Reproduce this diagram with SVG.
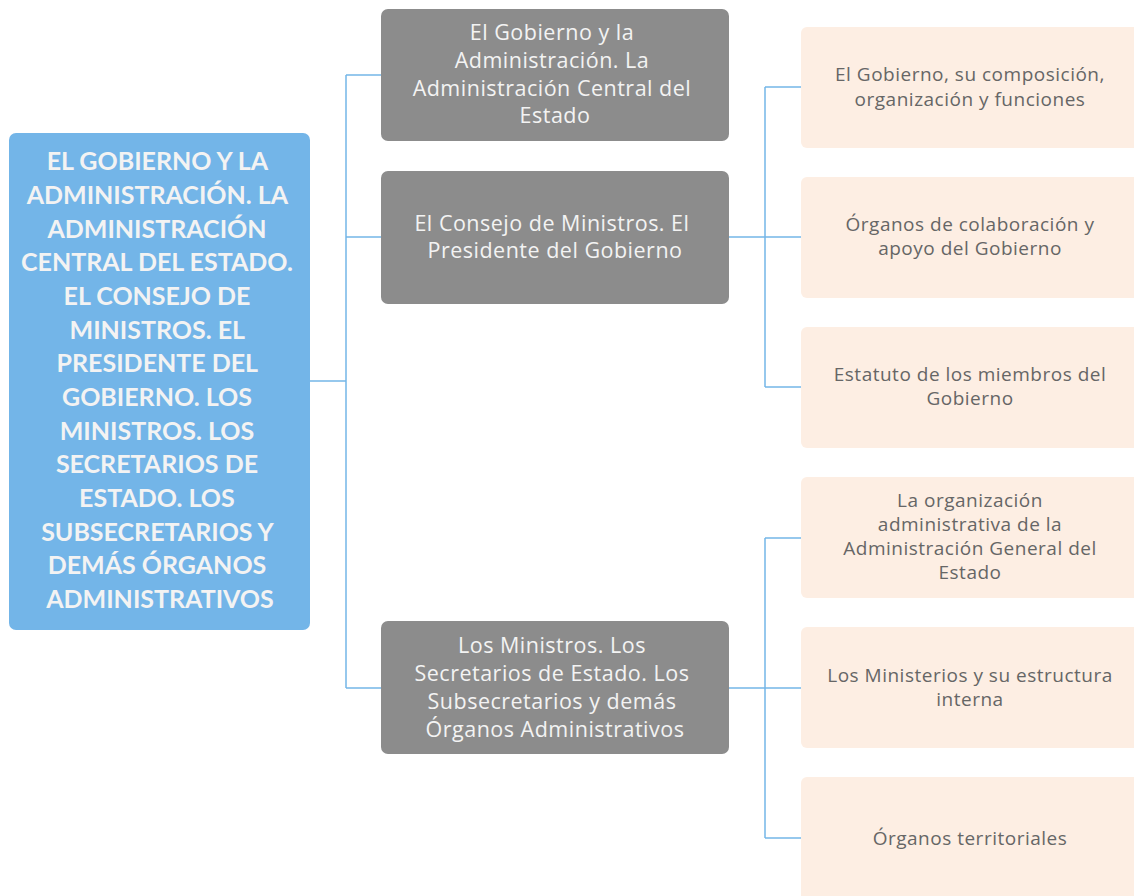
<svg xmlns="http://www.w3.org/2000/svg" width="1134" height="896" viewBox="0 0 1134 896">
<style>
.root{fill:#73b5e8}
.mid{fill:#8c8c8c}
.leaf{fill:#fdeee3}
.rt{font-family:Lato,"Liberation Sans",sans-serif;font-weight:bold;font-size:25px;fill:#f3f3f3;text-anchor:middle}
.mt{font-family:"Open Sans","Liberation Sans",sans-serif;font-size:21.5px;letter-spacing:0.5px;fill:#f3f3f3;text-anchor:middle}
.lt{font-family:"Open Sans","Liberation Sans",sans-serif;font-size:19px;letter-spacing:0.5px;fill:#666666;text-anchor:middle}
.c{fill:none;stroke:#74b6e8;stroke-width:1.5}
</style>
<rect width="1134" height="896" fill="#ffffff"/>
<g id="connectors">
<path class="c" d="M310 381H346M346 75V688M346 75H381M346 237H381M346 688H381"/>
<path class="c" d="M729 237H765M765 87V387M765 87H801M765 237H801M765 387H801"/>
<path class="c" d="M729 688H765M765 538V838M765 538H801M765 688H801M765 838H801"/>
</g>
<g id="root">
<rect class="root" x="9" y="133" width="301" height="497" rx="7"/>
<text class="rt">
<tspan x="160" y="170">EL GOBIERNO Y LA</tspan>
<tspan x="160" y="204">ADMINISTRACIÓN. LA</tspan>
<tspan x="160" y="237.5">ADMINISTRACIÓN</tspan>
<tspan x="160" y="271">CENTRAL DEL ESTADO.</tspan>
<tspan x="160" y="305">EL CONSEJO DE</tspan>
<tspan x="160" y="338.5">MINISTROS. EL</tspan>
<tspan x="160" y="372">PRESIDENTE DEL</tspan>
<tspan x="160" y="406">GOBIERNO. LOS</tspan>
<tspan x="160" y="439.5">MINISTROS. LOS</tspan>
<tspan x="160" y="473">SECRETARIOS DE</tspan>
<tspan x="160" y="507">ESTADO. LOS</tspan>
<tspan x="160" y="540.5">SUBSECRETARIOS Y</tspan>
<tspan x="160" y="574">DEMÁS ÓRGANOS</tspan>
<tspan x="160" y="608">ADMINISTRATIVOS</tspan>
</text>
</g>
<g id="mid1">
<rect class="mid" x="381" y="9" width="348" height="132" rx="7"/>
<text class="mt">
<tspan x="555" y="40">El Gobierno y la</tspan>
<tspan x="555" y="68">Administración. La</tspan>
<tspan x="555" y="96">Administración Central del</tspan>
<tspan x="555" y="123">Estado</tspan>
</text>
</g>
<g id="mid2">
<rect class="mid" x="381" y="171" width="348" height="133" rx="7"/>
<text class="mt">
<tspan x="555" y="231">El Consejo de Ministros. El</tspan>
<tspan x="555" y="258">Presidente del Gobierno</tspan>
</text>
</g>
<g id="mid3">
<rect class="mid" x="381" y="621" width="348" height="133" rx="7"/>
<text class="mt">
<tspan x="555" y="653">Los Ministros. Los</tspan>
<tspan x="555" y="681">Secretarios de Estado. Los</tspan>
<tspan x="555" y="709">Subsecretarios y demás</tspan>
<tspan x="555" y="737">Órganos Administrativos</tspan>
</text>
</g>
<g id="leaf1">
<rect class="leaf" x="801" y="27" width="345" height="121" rx="6"/>
<text class="lt"><tspan x="970" y="81">El Gobierno, su composición,</tspan><tspan x="970" y="106">organización y funciones</tspan></text>
</g>
<g id="leaf2">
<rect class="leaf" x="801" y="177" width="345" height="121" rx="6"/>
<text class="lt"><tspan x="970" y="231">Órganos de colaboración y</tspan><tspan x="970" y="255">apoyo del Gobierno</tspan></text>
</g>
<g id="leaf3">
<rect class="leaf" x="801" y="327" width="345" height="121" rx="6"/>
<text class="lt"><tspan x="970" y="381">Estatuto de los miembros del</tspan><tspan x="970" y="405">Gobierno</tspan></text>
</g>
<g id="leaf4">
<rect class="leaf" x="801" y="477" width="345" height="121" rx="6"/>
<text class="lt"><tspan x="970" y="507">La organización</tspan><tspan x="970" y="531">administrativa de la</tspan><tspan x="970" y="555">Administración General del</tspan><tspan x="970" y="579">Estado</tspan></text>
</g>
<g id="leaf5">
<rect class="leaf" x="801" y="627" width="345" height="121" rx="6"/>
<text class="lt"><tspan x="970" y="682">Los Ministerios y su estructura</tspan><tspan x="970" y="706">interna</tspan></text>
</g>
<g id="leaf6">
<rect class="leaf" x="801" y="777" width="345" height="130" rx="6"/>
<text class="lt"><tspan x="970" y="845">Órganos territoriales</tspan></text>
</g>
</svg>
